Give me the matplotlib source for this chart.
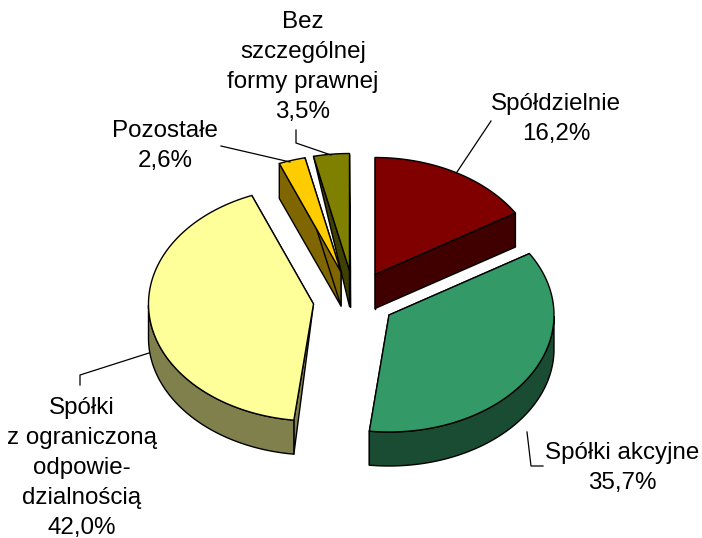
import numpy as np
import matplotlib
matplotlib.use("Agg")
import matplotlib.pyplot as plt
from matplotlib.patches import Polygon

plt.rcParams['font.family'] = ['Liberation Sans', 'DejaVu Sans']

names = ["Spółdzielnie", "Spółki akcyjne", "Spółki z o.o.", "Pozostałe", "Bez formy"]
values = [16.2, 35.7, 42.0, 2.6, 3.5]
top_colors = ["#800000", "#339966", "#FFFF99", "#FFCC00", "#808000"]
side_colors = ["#400000", "#1A4C33", "#80804D", "#806600", "#404000"]
apex_x = [375, 389, 313.5, 341, 349.5]
apex_y = [274.5, 315, 304, 272, 270.5]
apex_depth = [34, 34, 0, 34, 36]
start_rim_depth = [34, 34, 34, 35, 0]
end_rim_depth = [34, 34, 34, 35, 34]
draw_order = [0, 4, 3, 2, 1]

label_texts = ["Spółdzielnie\n16,2%", "Spółki akcyjne\n35,7%",
               "Spółki\nz ograniczoną\nodpowie-\ndzialnością\n42,0%",
               "Pozostałe\n2,6%", "Bez\nszczególnej\nformy prawnej\n3,5%"]
label_x = [556, 622, 82, 165, 303]
label_y = [119, 468, 468, 146, 67]
leader_x = [[457, 491], [527, 531, 543], [149, 80, 80], [290, 221], [331, 296, 296]]
leader_y = [[172, 121], [432, 466, 466], [353, 375, 385], [162, 146], [155, 143, 130]]

RX, RY, DEPTH = 165, 117, 34

fig = plt.figure(figsize=(7.02, 5.38), dpi=100)
ax = fig.add_axes([0, 0, 1, 1])
ax.set_xlim(0, 702)
ax.set_ylim(538, 0)
ax.axis("off")

edges = np.concatenate([[0], np.cumsum(values)]) / np.sum(values) * 2 * np.pi

for i in draw_order:
    kw = dict(edgecolor="black", linewidth=1.0, joinstyle="round")
    cx, cy = apex_x[i], apex_y[i]
    t = np.linspace(edges[i], edges[i + 1], 120)
    x = cx + RX * np.sin(t)
    y = cy - RY * np.cos(t)
    # cut faces
    for ex, ey, d in ((x[0], y[0], start_rim_depth[i]), (x[-1], y[-1], end_rim_depth[i])):
        ax.add_patch(Polygon([(cx, cy), (ex, ey), (ex, ey + d), (cx, cy + apex_depth[i])],
                             facecolor=side_colors[i], **kw))
    # outer wall: only the part of the rim that faces the viewer
    mask = np.cos(t) < 0
    if mask.any():
        wx, wy = x[mask], y[mask]
        ax.add_patch(Polygon(np.r_[np.c_[wx, wy], np.c_[wx[::-1], wy[::-1] + DEPTH]],
                             facecolor=side_colors[i], **kw))
    ax.add_patch(Polygon(np.r_[[(cx, cy)], np.c_[x, y]], facecolor=top_colors[i], **kw))

for lx, ly in zip(leader_x, leader_y):
    ax.plot(lx, ly, color="black", lw=0.9, solid_joinstyle="miter")

for t, lx, ly in zip(label_texts, label_x, label_y):
    ax.text(lx, ly, t, ha="center", va="center", fontsize=17.4, linespacing=1.48,
            color="black", clip_on=False)

fig.savefig("out.png", dpi=100, facecolor="white")
